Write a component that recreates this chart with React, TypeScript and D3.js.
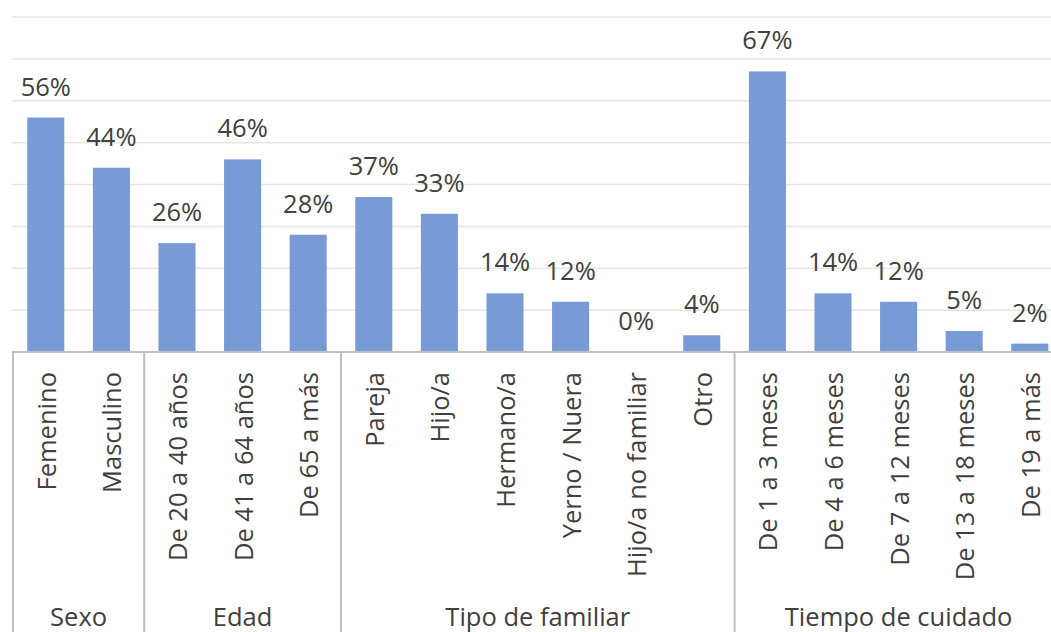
import React from "react";
import * as d3 from "d3";

const groups = ["Sexo", "Edad", "Tipo de familiar", "Tiempo de cuidado"];
const categories = [
  "Femenino", "Masculino",
  "De 20 a 40 años", "De 41 a 64 años", "De 65 a más",
  "Pareja", "Hijo/a", "Hermano/a", "Yerno / Nuera", "Hijo/a no familiar", "Otro",
  "De 1 a 3 meses", "De 4 a 6 meses", "De 7 a 12 meses", "De 13 a 18 meses", "De 19 a más",
];
const categoryGroup = [0, 0, 1, 1, 1, 2, 2, 2, 2, 2, 2, 3, 3, 3, 3, 3];
const values = [0.56, 0.44, 0.26, 0.46, 0.28, 0.37, 0.33, 0.14, 0.12, 0.0, 0.04, 0.67, 0.14, 0.12, 0.05, 0.02];
const valueLabels = ["56%", "44%", "26%", "46%", "28%", "37%", "33%", "14%", "12%", "0%", "4%", "67%", "14%", "12%", "5%", "2%"];
const gridTicks = [0.1, 0.2, 0.3, 0.4, 0.5, 0.6, 0.7, 0.8];

const W = 1051;
const H = 632;
const FONT = "'Open Sans', 'Segoe UI', sans-serif";
const TEXT = "#404040";
const BAR = "#789bd5";
const FS = 25.5;

export default function App() {
  const x = d3
    .scaleBand<string>()
    .domain(categories)
    .range([13, 1062.6])
    .paddingInner(0.435)
    .paddingOuter(0.2175);
  const y = d3.scaleLinear().domain([0, 0.8]).range([352, 17]);
  const step = x.step();
  const left = 13;

  const bounds: number[] = [left];
  const groupCenters: number[] = [];
  groups.forEach((g, gi) => {
    const idx = categories.map((c, i) => i).filter((i) => categoryGroup[i] === gi);
    const start = left + idx[0] * step;
    const end = left + (idx[idx.length - 1] + 1) * step;
    groupCenters.push((start + end) / 2);
    bounds.push(end);
  });

  return (
    <div style={{ position: "fixed", left: 0, top: 0, width: W, height: H, background: "#fff" }}>
      <svg width={W} height={H} style={{ display: "block" }} fontFamily={FONT}>
        {gridTicks.map((t) => (
          <line key={t} x1={12} x2={W} y1={y(t)} y2={y(t)} stroke="#e6e6e6" strokeWidth={1.5} />
        ))}
        {categories.map((c, i) => {
          const bx = x(c)!;
          const bw = x.bandwidth();
          return (
            <g key={c}>
              <rect x={bx} y={y(values[i])} width={bw} height={y(0) - y(values[i])} fill={BAR} />
              <text
                x={bx + bw / 2}
                y={y(values[i]) - 22}
                textAnchor="middle"
                fontSize={FS}
                fill={TEXT}
              >
                {valueLabels[i]}
              </text>
              <text
                transform={`translate(${bx + bw / 2},372) rotate(-90)`}
                textAnchor="end"
                dominantBaseline="central"
                fontSize={FS}
                fill={TEXT}
              >
                {c}
              </text>
            </g>
          );
        })}
        <line x1={12} x2={W} y1={y(0)} y2={y(0)} stroke="#bfbfbf" strokeWidth={2} />
        {bounds.map((b, i) => (
          <line key={i} x1={b} x2={b} y1={y(0)} y2={H} stroke="#bfbfbf" strokeWidth={2} />
        ))}
        {groups.map((g, gi) => (
          <text key={g} x={groupCenters[gi]} y={626} textAnchor="middle" fontSize={FS} fill={TEXT}>
            {g}
          </text>
        ))}
      </svg>
    </div>
  );
}
